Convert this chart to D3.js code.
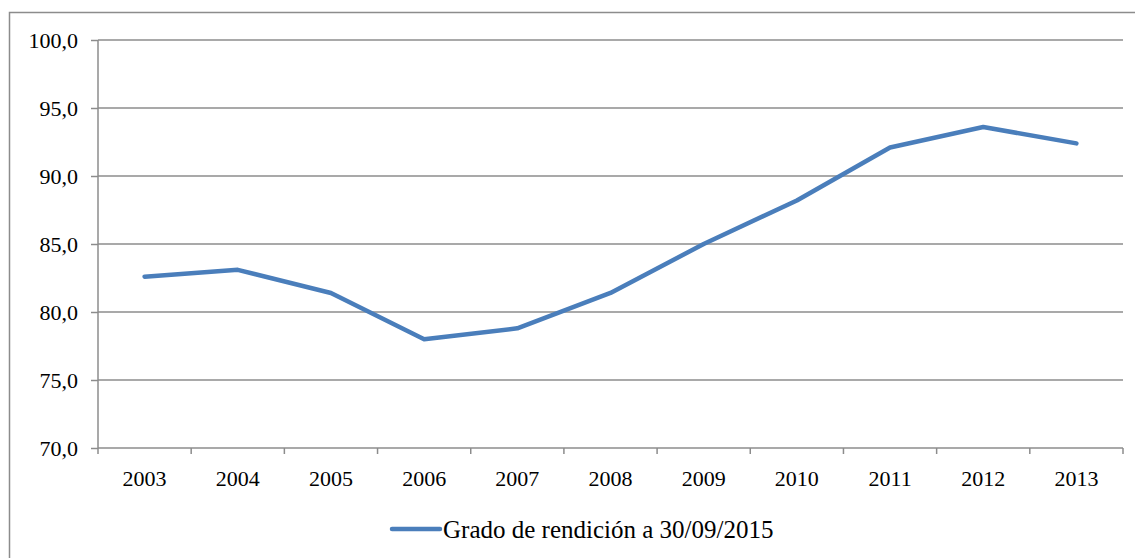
<!DOCTYPE html>
<meta charset="utf-8">
<style>
body { margin: 0; background: #fff; }
svg text { font-family: "Liberation Serif", "Times New Roman", serif; fill: #000; }
.grid line { stroke: #8c8c8c; stroke-width: 1.5px; }
.axis path, .axis line { stroke: #8c8c8c; stroke-width: 1.5px; }
.axis text { font-size: 22px; }
</style>
<body></body>
<script src="https://cdnjs.cloudflare.com/ajax/libs/d3/7.8.5/d3.min.js"></script>
<script>

var years = ["2003","2004","2005","2006","2007","2008","2009","2010","2011","2012","2013"]
var values = [82.6, 83.1, 81.4, 78.0, 78.8, 81.4, 85.0, 88.2, 92.1, 93.6, 92.4]
var yTicks = [70, 75, 80, 85, 90, 95, 100]
var seriesName = "Grado de rendición a 30/09/2015"

var width = 1135, height = 558
var margin = {top: 40, right: 12, bottom: 110, left: 98}

var svg = d3.select("body").append("svg")
    .attr("width", width)
    .attr("height", height)

// outer frame
svg.append("rect")
    .attr("x", 9.5).attr("y", 12.5)
    .attr("width", 1140).attr("height", 560)
    .attr("fill", "none")
    .attr("stroke", "#8c8c8c")
    .attr("stroke-width", 1.5)

var x = d3.scaleBand()
    .domain(years)
    .range([margin.left, width - margin.right])

var y = d3.scaleLinear()
    .domain([70, 100])
    .range([height - margin.bottom, margin.top])

// gridlines
svg.append("g")
    .attr("class", "grid")
  .selectAll("line")
  .data(yTicks.slice(1))
  .enter().append("line")
    .attr("x1", margin.left)
    .attr("x2", width - margin.right)
    .attr("y1", d => y(d))
    .attr("y2", d => y(d))

// y axis
var yAxis = svg.append("g")
    .attr("class", "axis")
    .attr("transform", "translate(" + margin.left + ",0)")
    .call(d3.axisLeft(y).tickValues(yTicks).tickSize(7).tickPadding(13)
      .tickFormat(d => d3.format(".1f")(d).replace(".", ",")))
yAxis.attr("font-family", null).attr("font-size", null)
yAxis.select(".domain").attr("d", "M0," + y(70) + "V" + y(100))

// x axis with ticks on band edges
var xAxis = svg.append("g")
    .attr("class", "axis")
    .attr("transform", "translate(0," + y(70) + ")")
    .call(d3.axisBottom(x).tickSize(0).tickPadding(22))
xAxis.attr("font-family", null).attr("font-size", null)
xAxis.select(".domain").attr("d", "M" + margin.left + ",0H" + (width - margin.right))
xAxis.selectAll(".edge")
  .data(years.map(d => x(d)).concat([x(years[years.length - 1]) + x.bandwidth()]))
  .enter().append("line")
    .attr("x1", d => d).attr("x2", d => d)
    .attr("y1", 0).attr("y2", 6)

// series line
var line = d3.line()
    .x((d, i) => x(years[i]) + x.bandwidth() / 2)
    .y(d => y(d))

svg.append("path")
    .datum(values)
    .attr("fill", "none")
    .attr("stroke", "#4a7ebb")
    .attr("stroke-width", 4.5)
    .attr("stroke-linecap", "round")
    .attr("stroke-linejoin", "round")
    .attr("d", line)

// legend
var legend = svg.append("g").attr("transform", "translate(392,529)")
legend.append("line")
    .attr("x1", 0).attr("x2", 48)
    .attr("stroke", "#4a7ebb")
    .attr("stroke-width", 4.5)
    .attr("stroke-linecap", "round")
legend.append("text")
    .attr("x", 51).attr("y", 9)
    .attr("font-size", 25)
    .text(seriesName)

</script>
